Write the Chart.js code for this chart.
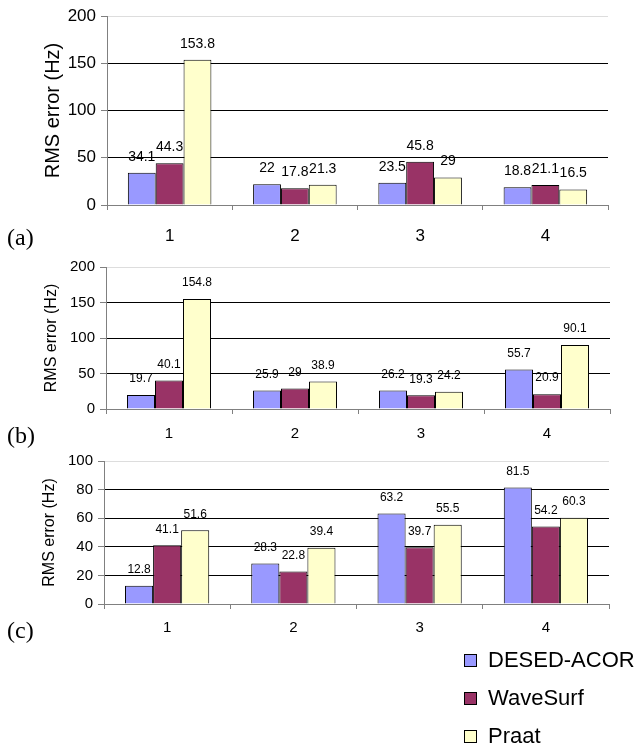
<!DOCTYPE html>
<html>
<head>
<meta charset="utf-8">
<script src="https://cdn.jsdelivr.net/npm/chart.js@4.4.1/dist/chart.umd.min.js"></script>
<style>
body { margin: 0; background: #fff; width: 643px; height: 745px; position: relative; overflow: hidden; }
canvas { position: absolute; left: 0; }
.tag { position: absolute; left: 7px; font-family: "Liberation Serif", "Times New Roman", serif; font-size: 24px; line-height: 24px; }
#legend { position: absolute; left: 464px; top: 641px; font-family: "Liberation Sans", Arial, sans-serif; font-size: 22px; }
#legend .row { height: 38px; display: flex; align-items: center; }
#legend .box { width: 11px; height: 11px; border: 1px solid #000; margin-right: 11px; }
</style>
</head>
<body>
<canvas id="chartA" width="643" height="250" style="top:0px"></canvas>
<canvas id="chartB" width="643" height="200" style="top:250px"></canvas>
<canvas id="chartC" width="643" height="200" style="top:445px"></canvas>
<div class="tag" style="top:225px">(a)</div>
<div class="tag" style="top:423px">(b)</div>
<div class="tag" style="top:618px">(c)</div>
<div id="legend"></div>
<script>
var categories = ['1', '2', '3', '4'];
var seriesNames = ['DESED-ACOR', 'WaveSurf', 'Praat'];
var seriesColors = ['#9999FF', '#993366', '#FFFFCC'];

// panel (a)
var desedA = [34.1, 22, 23.5, 18.8];
var waveA = [44.3, 17.8, 45.8, 21.1];
var praatA = [153.8, 21.3, 29, 16.5];
// panel (b)
var desedB = [19.7, 25.9, 26.2, 55.7];
var waveB = [40.1, 29, 19.3, 20.9];
var praatB = [154.8, 38.9, 24.2, 90.1];
// panel (c)
var desedC = [12.8, 28.3, 63.2, 81.5];
var waveC = [41.1, 22.8, 39.7, 54.2];
var praatC = [51.6, 39.4, 55.5, 60.3];

var yMaxA = 200, yStepA = 50;
var yMaxB = 200, yStepB = 50;
var yMaxC = 100, yStepC = 20;

var yTitle = 'RMS error (Hz)';
var fontFamily = '"Liberation Sans", Arial, sans-serif';

// value labels above the bars
var barLabels = {
  id: 'barLabels',
  afterDatasetsDraw: function (chart, args, opts) {
    var ctx = chart.ctx;
    ctx.save();
    ctx.font = opts.size + 'px ' + fontFamily;
    ctx.fillStyle = '#000';
    ctx.textAlign = 'center';
    ctx.textBaseline = 'bottom';
    chart.data.datasets.forEach(function (ds, i) {
      chart.getDatasetMeta(i).data.forEach(function (bar, j) {
        ctx.fillText(String(ds.data[j]), bar.x, bar.y - opts.gap);
      });
    });
    ctx.restore();
  }
};

function makeChart(id, values, p) {
  var datasets = values.map(function (v, i) {
    return {
      label: seriesNames[i],
      data: v,
      backgroundColor: seriesColors[i],
      borderColor: '#000',
      borderWidth: 1,
      borderSkipped: 'bottom',
      categoryPercentage: 0.667,
      barPercentage: 1
    };
  });
  var ctx = document.getElementById(id).getContext('2d');
  return new Chart(ctx, {
    type: 'bar',
    data: { labels: categories, datasets: datasets },
    plugins: [barLabels],
    options: {
      responsive: false,
      animation: false,
      layout: { padding: { top: p.top, right: p.right, left: 0, bottom: 0 } },
      plugins: {
        legend: { display: false },
        tooltip: { enabled: false },
        barLabels: { size: p.labelSize, gap: p.gap }
      },
      scales: {
        x: {
          afterFit: function (s) { s.height = p.xHeight; },
          grid: { drawOnChartArea: false, drawTicks: true, tickLength: 5, tickColor: '#808080', offset: true },
          border: { color: '#808080', width: 1 },
          ticks: { color: '#000', padding: p.xPad, font: { family: fontFamily, size: p.tickSize } }
        },
        y: {
          min: 0, max: p.max,
          afterFit: function (s) { s.width = p.left; },
          ticks: { stepSize: p.step, color: '#000', padding: 5, font: { family: fontFamily, size: p.tickSize } },
          grid: {
            color: function (c) { return c.tick.value === p.max ? '#dddddd' : '#000'; },
            tickColor: '#808080',
            tickLength: 6
          },
          border: { color: '#808080', width: 1 },
          title: {
            display: true, text: yTitle, color: '#000',
            padding: { top: p.titlePad, bottom: 0 },
            font: { family: fontFamily, size: p.titleSize }
          }
        }
      }
    }
  });
}

makeChart('chartA', [desedA, waveA, praatA], {
  max: yMaxA, step: yStepA, top: 16, right: 35, left: 107, xHeight: 45, xPad: 16,
  tickSize: 17, labelSize: 14, gap: 9, titleSize: 20, titlePad: 41
});
makeChart('chartB', [desedB, waveB, praatB], {
  max: yMaxB, step: yStepB, top: 17, right: 33, left: 106, xHeight: 41, xPad: 11,
  tickSize: 15, labelSize: 12, gap: 10, titleSize: 16, titlePad: 42
});
makeChart('chartC', [desedC, waveC, praatC], {
  max: yMaxC, step: yStepC, top: 16, right: 34, left: 104, xHeight: 41, xPad: 10,
  tickSize: 15, labelSize: 12, gap: 10, titleSize: 16, titlePad: 40
});

// legend built from the series arrays
var legend = document.getElementById('legend');
seriesNames.forEach(function (name, i) {
  var row = document.createElement('div');
  row.className = 'row';
  var box = document.createElement('div');
  box.className = 'box';
  box.style.background = seriesColors[i];
  var txt = document.createElement('span');
  txt.textContent = name;
  row.appendChild(box);
  row.appendChild(txt);
  legend.appendChild(row);
});
</script>
</body>
</html>
